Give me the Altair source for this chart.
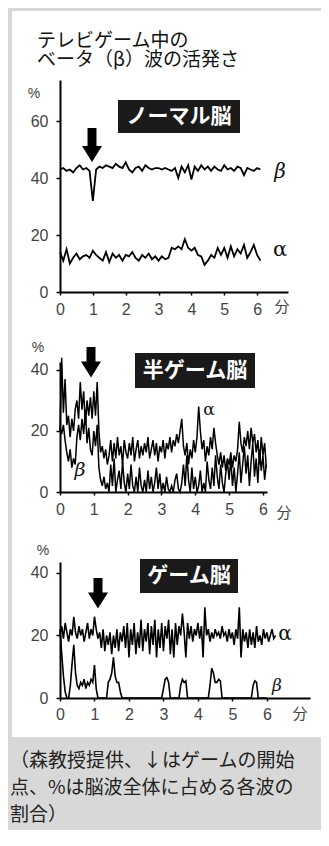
import altair as alt
import pandas as pd

# ---------------- data ----------------
x_ticks = [0, 1, 2, 3, 4, 5, 6]
p1_yticks = [0, 20, 40, 60]
p23_yticks = [0, 20, 40]

title_lines = ["テレビゲーム中の", "ベータ（β）波の活発さ"]
panel_names = ["ノーマル脳", "半ゲーム脳", "ゲーム脳"]
caption_lines = ["（森教授提供、↓はゲームの開始", "点、%は脳波全体に占める各波の", "割合）"]

# panel 1 (normal brain), sampled every 0.1 min
p1_step = 0.1
p1_beta = [43, 43.5, 42.5, 43, 42, 43.5, 44.5, 43, 43.5, 42.5,
           32, 43, 44, 43.5, 44.5, 44, 43.5, 45, 44, 43.5,
           45.5, 43, 42, 43.5, 44, 42.5, 44.5, 43.5, 43, 43.5,
           43.5, 43, 43.5, 43, 42.5, 43.5, 40, 44, 42, 44.5,
           39.5, 44, 42.5, 44.5, 43, 44, 42.5, 44, 43, 42.5,
           44.5, 43, 43.5, 42.5, 44, 43.5, 41, 43.5, 43, 42.5,
           43.5, 43]
p1_alpha = [14, 11, 15, 10, 12, 13.5, 11.5, 12.5, 13, 12,
            14.5, 13, 12, 11, 14, 10.5, 13.5, 12, 13, 11,
            13, 12.5, 14, 12, 11, 13, 12, 13.5, 11.5, 12.5,
            11, 12.5, 11.5, 12, 15.5, 15, 16, 15, 18.5, 15.5,
            14.5, 15.5, 13, 12.5, 9.5, 11, 13, 12, 15.5, 13,
            15.5, 12, 16, 12.5, 15, 13.5, 16.5, 12, 14, 16.5,
            13, 11]

# panel 2 (half game brain), sampled every 0.05 min
p2_step = 0.05
p2_alpha = [20, 44, 26, 37, 22, 25, 18, 24, 20, 27,
            30, 24, 36, 27, 33, 22, 30, 25, 31, 24,
            33, 25, 36, 20, 13, 15, 11, 14, 9, 12,
            17, 10, 16, 11, 18, 12, 15, 9, 17, 13,
            11, 16, 12, 18, 10, 14, 17, 11, 15, 12,
            16, 13, 18, 11, 14, 17, 12, 16, 10, 15,
            13, 17, 11, 16, 14, 18, 13, 17, 15, 19,
            16, 20, 24, 15, 12, 16, 9, 14, 11, 17,
            13, 18, 28, 20, 14, 17, 10, 15, 12, 18,
            14, 21, 16, 12, 9, 13, 8, 12, 7, 11,
            9, 13, 8, 12, 10, 14, 23, 16, 13, 18,
            15, 20, 14, 21, 16, 19, 13, 17, 9, 18,
            12, 16, 8]
p2_beta = [21, 19, 22, 17, 13, 10, 14, 8, 11, 9,
           18, 22, 17, 24, 19, 27, 16, 21, 14, 12,
           20, 15, 22, 8, 4, 2, 5, 1, 3, 0,
           9, 2, 11, 0, 4, 7, 1, 10, 3, 0,
           6, 1, 9, 2, 0, 5, 0, 8, 2, 0,
           4, 0, 7, 1, 5, 0, 3, 8, 1, 6,
           0, 3, 0, 5, 1, 0, 2, 0, 4, 6,
           1, 0, 3, 9, 2, 12, 4, 0, 8, 1,
           5, 0, 2, 7, 0, 3, 0, 10, 4, 1,
           8, 2, 12, 5, 1, 9, 3, 0, 6, 10,
           4, 11, 2, 8, 0, 6, 13, 3, 9, 15,
           6, 12, 2, 10, 16, 5, 11, 3, 14, 7,
           12, 4, 9]

# panel 3 (game brain), sampled every 0.05 min
p3_step = 0.05
p3_alpha = [20, 23, 19, 24, 21, 18, 22, 20, 26, 21,
            19, 23, 20, 22, 18, 21, 24, 19, 22, 20,
            26, 22, 19, 21, 16, 22, 15, 20, 17, 21,
            14, 20, 16, 22, 15, 21, 18, 23, 16, 24,
            13, 22, 17, 24, 14, 21, 16, 25, 15, 22,
            18, 24, 14, 23, 17, 25, 13, 22, 16, 24,
            15, 23, 19, 25, 14, 22, 13, 24, 17, 23,
            20, 27, 21, 13, 24, 19, 23, 18, 22, 20,
            24, 19, 23, 13, 29, 20, 22, 18, 21, 19,
            22, 20, 21, 19, 23, 20, 21, 18, 22, 19,
            21, 17, 22, 19, 29, 13, 22, 18, 21, 16,
            22, 17, 21, 16, 23, 18, 20, 17, 22, 19,
            21, 18, 20, 22, 19, 20]
p3_beta = [22, 14, 7, 2, 0, 0, 4, 11, 17, 8,
           4, 3, 5, 4, 6, 3, 5, 4, 6, 5,
           10.5, 3, 0, 0, 0, 0, 0, 0, 5, 6,
           8, 13, 7, 5, 5, 2, 0, 0, 0, 0,
           0, 0, 0, 0, 0, 0, 0, 0, 0, 0,
           0, 0, 0, 0, 0, 0, 0, 0, 0, 0,
           3, 6, 6.5, 5, 0, 0, 0, 0, 0, 0,
           4, 6, 5, 5.5, 0, 0, 0, 0, 0, 0,
           0, 0, 0, 0, 0, 0, 0, 4, 9.5, 8,
           5, 5, 6, 5.5, 0, 0, 0, 0, 0, 0,
           0, 0, 0, 0, 0, 0, 0, 0, 0, 0,
           0, 0, 4, 5.5, 5, 0, 0, 0, 0, 0,
           0]


def series_df(step, series):
    rows = []
    for name, vals in series.items():
        for i, v in enumerate(vals):
            rows.append({"t": round(i * step, 3), "v": v, "s": name})
    return pd.DataFrame(rows)


JP = "Noto Sans CJK JP"
NUM = "Liberation Sans"
GREY = "#d8d8d8"
one = pd.DataFrame({"k": [0]})


def txt(s, x, y, size, font=JP, color="#111", align="center", weight="normal",
        style="normal", line_height=20):
    return alt.Chart(one).mark_text(
        text=s, font=font, fontSize=size, color=color, align=align,
        baseline="middle", fontWeight=weight, fontStyle=style, lineHeight=line_height
    ).encode(x=alt.value(x), y=alt.value(y))


def rect(x, x2, y, y2, color):
    return alt.Chart(one).mark_rect(color=color).encode(
        x=alt.value(x), x2=alt.value(x2), y=alt.value(y), y2=alt.value(y2))


def arrow(x, y1, y2, yh):
    shaft = alt.Chart(one).mark_rule(color="black", strokeWidth=9).encode(
        x=alt.value(x), y=alt.value(y1), y2=alt.value(y2))
    head = alt.Chart(one).mark_point(
        shape="M-1,-0.8L1,-0.8L0,0.8Z", filled=True, size=400,
        color="black", opacity=1, strokeWidth=0
    ).encode(x=alt.value(x), y=alt.value(yh))
    return [shaft, head]


def lines(df, xmax, ymax, yticks, lab_pad, width_px):
    return alt.Chart(df).mark_line(color="black", strokeWidth=width_px).encode(
        x=alt.X("t:Q", scale=alt.Scale(domain=[0, xmax], nice=False, zero=True),
                axis=alt.Axis(values=x_ticks, title="", tickSize=3, labelPadding=lab_pad,
                              labelFlush=False, labelOverlap=False, zindex=2)),
        y=alt.Y("v:Q", scale=alt.Scale(domain=[0, ymax], nice=False, zero=True),
                axis=alt.Axis(values=yticks, title="", tickSize=4, labelPadding=8,
                              labelFlush=False, labelOverlap=False, zindex=2)),
        detail="s:N",
    )


# ---------------- panel 1 ----------------
df1 = series_df(p1_step, {"beta": p1_beta, "alpha": p1_alpha})
panel1 = alt.layer(
    rect(-52, 261, -72, 750, GREY),
    rect(-48, 261, -69, 657, "white"),
    lines(df1, 6.94, 74.4, p1_yticks, 6, 1.8),
    txt(title_lines, -23, -39, 19, align="left", line_height=19),
    txt("%", -26, 14, 14, font=NUM, color="#444"),
    rect(58, 180, 20, 53, "#1a1a1a"),
    txt(panel_names[0], 119, 36.5, 21, color="white", weight="bold"),
    *arrow(32, 48, 67, 74),
    txt("β", 220, 92, 20, font="DejaVu Serif", style="italic"),
    txt("α", 220, 170, 21, font="DejaVu Serif"),
    txt("分", 222, 227, 15, color="#444"),
).properties(width=228, height=212)

# ---------------- panel 2 ----------------
df2 = series_df(p2_step, {"alpha": p2_alpha, "beta": p2_beta})
panel2 = alt.layer(
    lines(df2, 6.12, 42.6, p23_yticks, 6, 1.5),
    txt("%", -22, -14, 14, font=NUM, color="#444"),
    rect(75, 195, -9, 26, "#1a1a1a"),
    txt(panel_names[1], 135, 8.5, 21, color="white", weight="bold"),
    *arrow(31, -15, 1, 7.5),
    txt("α", 149, 48, 17, font="DejaVu Serif"),
    txt("β", 20, 108, 19, font="DejaVu Serif", style="italic"),
    txt("分", 224, 151, 15, color="#444"),
).properties(width=207, height=130)

# ---------------- panel 3 ----------------
df3 = series_df(p3_step, {"alpha": p3_alpha, "beta": p3_beta})
panel3 = alt.layer(
    lines(df3, 7.25, 43.5, p23_yticks, 5, 1.6),
    txt("%", -17, -11, 14, font=NUM, color="#444"),
    rect(80, 178, -3, 31, "#1a1a1a"),
    txt(panel_names[2], 129, 14, 21, color="white", weight="bold"),
    *arrow(38, 16, 32, 38.5),
    txt("α", 225, 72, 20, font="DejaVu Serif"),
    txt("β", 217, 124, 17, font="DejaVu Serif", style="italic"),
    txt("分", 240, 152, 15, color="#444"),
    txt(caption_lines, -50, 199, 19, color="#222", align="left", line_height=27),
).properties(width=250, height=136)

chart = alt.vconcat(panel1, panel2, panel3, spacing=70, bounds="flush").properties(
    padding=0, background="white"
).configure_view(strokeWidth=0).configure_axis(
    domainColor="black", domainWidth=2, tickColor="black", tickWidth=1.5,
    labelFont=NUM, labelFontSize=16, labelColor="#444", grid=False,
)

chart.save("out.html", embed_options={"renderer": "svg", "actions": False})
